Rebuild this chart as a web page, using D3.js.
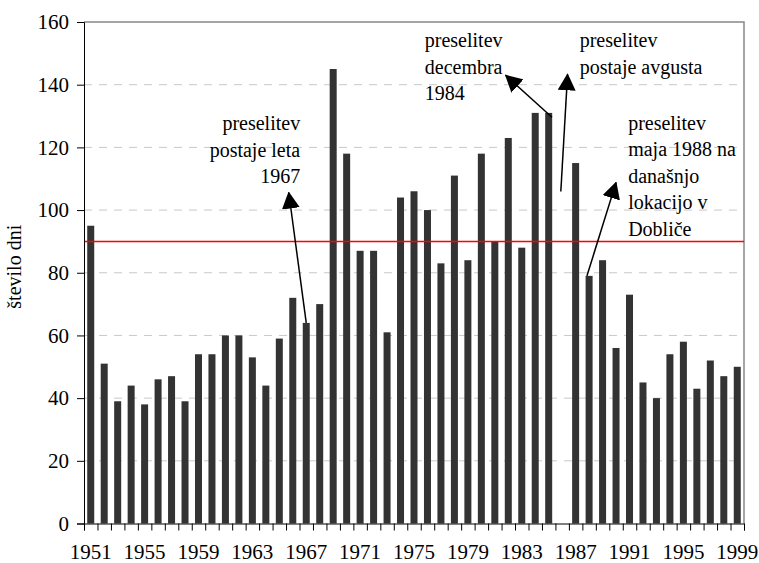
<!DOCTYPE html>
<html>
<head>
<meta charset="utf-8">
<script src="https://cdn.jsdelivr.net/npm/d3@7"></script>
<style>
  body { margin: 0; background: #fff; overflow: hidden; }
</style>
</head>
<body>
<div id="chart"></div>
<script>
var years = [1951, 1952, 1953, 1954, 1955, 1956, 1957, 1958, 1959, 1960,
    1961, 1962, 1963, 1964, 1965, 1966, 1967, 1968, 1969, 1970,
    1971, 1972, 1973, 1974, 1975, 1976, 1977, 1978, 1979, 1980,
    1981, 1982, 1983, 1984, 1985, 1986, 1987, 1988, 1989, 1990,
    1991, 1992, 1993, 1994, 1995, 1996, 1997, 1998, 1999];

var days = [95, 51, 39, 44, 38, 46, 47, 39, 54, 54,
    60, 60, 53, 44, 59, 72, 64, 70, 145, 118,
    87, 87, 61, 104, 106, 100, 83, 111, 84, 118,
    90, 123, 88, 131, 131, null, 115, 79, 84, 56,
    73, 45, 40, 54, 58, 43, 52, 47, 50];

var xTickLabels = [1951, 1955, 1959, 1963, 1967, 1971, 1975, 1979, 1983, 1987, 1991, 1995, 1999];
var yTicks = [0, 20, 40, 60, 80, 100, 120, 140, 160];
var limit = 90;

// note texts, anchored in chart units (year, value of first baseline)
var notes = [
    { lines: ['preselitev', 'postaje leta', '1967'], year: 1966.55, value: 125.4, anchor: 'end' },
    { lines: ['preselitev', 'decembra', '1984'], year: 1975.8, value: 151.9, anchor: 'start' },
    { lines: ['preselitev', 'postaje avgusta'], year: 1987.3, value: 151.9, anchor: 'start' },
    { lines: ['preselitev', 'maja 1988 na', 'današnjo', 'lokacijo v', 'Dobliče'], year: 1990.9, value: 125.7, anchor: 'start' }
];

// arrows: from (year, value) to (year, value)
var arrows = [
    { from: [1967, 64], to: [1965.7, 105.6] },
    { from: [1985.24, 129.6], to: [1981.8, 143] },
    { from: [1985.9, 105.9], to: [1986.4, 143.3] },
    { from: [1987.84, 79], to: [1990.0, 108.8] }
];

var width = 759, height = 563;
var mLeft = 84, mRight = 744, mTop = 22, mBottom = 523.5;
var serif = 'Liberation Serif';

var svg = d3.select('#chart').append('svg')
    .attr('width', width)
    .attr('height', height)
    .style('display', 'block');

svg.append('defs').append('marker')
    .attr('id', 'head')
    .attr('markerUnits', 'userSpaceOnUse')
    .attr('viewBox', '0 -9 17 18')
    .attr('refX', 16)
    .attr('refY', 0)
    .attr('markerWidth', 17)
    .attr('markerHeight', 18)
    .attr('orient', 'auto')
    .append('path')
    .attr('d', 'M0,-9L17,0L0,9Z')
    .attr('fill', '#000');

var x = d3.scaleBand().domain(years).range([mLeft, mRight]).paddingInner(0.48).paddingOuter(0.24);
var y = d3.scaleLinear().domain([0, 160]).range([mBottom, mTop]);
var slot = d3.scaleLinear().domain([0, years.length]).range([mLeft, mRight]);

// fractional year -> pixel
function xf(v) {
    return x(years[0]) + x.bandwidth() / 2 + (v - years[0]) * x.step();
}

// grid
svg.append('g').selectAll('line')
    .data(yTicks.filter(d => d > 0 && d < 160))
    .enter().append('line')
    .attr('x1', mLeft).attr('x2', mRight)
    .attr('y1', d => y(d)).attr('y2', d => y(d))
    .attr('stroke', '#c8c8c8')
    .attr('stroke-dasharray', '8,7');

// border top/right
svg.append('path')
    .attr('d', `M${mLeft},${y(160)}H${mRight}V${mBottom}`)
    .attr('fill', 'none')
    .attr('stroke', '#888')
    .attr('stroke-width', 1.5);

// bars
svg.append('g').selectAll('rect')
    .data(years.map((yr, i) => ({ year: yr, v: days[i] })).filter(d => d.v != null))
    .enter().append('rect')
    .attr('x', d => x(d.year))
    .attr('width', x.bandwidth())
    .attr('y', d => y(d.v))
    .attr('height', d => y(0) - y(d.v))
    .attr('fill', '#333333');

// limit line
svg.append('line')
    .attr('x1', mLeft).attr('x2', mRight)
    .attr('y1', y(limit)).attr('y2', y(limit))
    .attr('stroke', '#ff0000')
    .attr('stroke-width', 1.5);

// axes
var yAxis = svg.append('g')
    .attr('transform', `translate(${mLeft},0)`)
    .call(d3.axisLeft(y).tickValues(yTicks).tickSize(7).tickPadding(8));

svg.append('g')
    .attr('transform', `translate(0,${mBottom})`)
    .call(d3.axisBottom(slot).tickValues(d3.range(years.length + 1)).tickSize(7).tickFormat(''));

var xAxis = svg.append('g')
    .attr('transform', `translate(0,${mBottom})`)
    .call(d3.axisBottom(x).tickValues(xTickLabels).tickSize(0).tickPadding(21));
xAxis.select('.domain').remove();

svg.selectAll('.tick text')
    .attr('font-family', serif)
    .attr('font-size', 21)
    .attr('fill', '#000');
svg.selectAll('.domain').attr('stroke', '#000');
svg.selectAll('.tick line').attr('stroke', '#000');

// y title
svg.append('text')
    .attr('transform', `translate(21,${(mTop + mBottom) / 2 - 6})rotate(-90)`)
    .attr('text-anchor', 'middle')
    .attr('font-family', serif)
    .attr('font-size', 20)
    .text('število dni');

// notes
notes.forEach(n => {
    var t = svg.append('text')
        .attr('text-anchor', n.anchor)
        .attr('font-family', serif)
        .attr('font-size', 20);
    n.lines.forEach((l, i) => {
        t.append('tspan')
            .attr('x', xf(n.year))
            .attr('y', y(n.value) + i * 26.5)
            .text(l);
    });
});

// arrows
svg.append('g').selectAll('line')
    .data(arrows)
    .enter().append('line')
    .attr('x1', d => xf(d.from[0])).attr('y1', d => y(d.from[1]))
    .attr('x2', d => xf(d.to[0])).attr('y2', d => y(d.to[1]))
    .attr('stroke', '#000')
    .attr('stroke-width', 1.5)
    .attr('marker-end', 'url(#head)');
</script>
</body>
</html>
